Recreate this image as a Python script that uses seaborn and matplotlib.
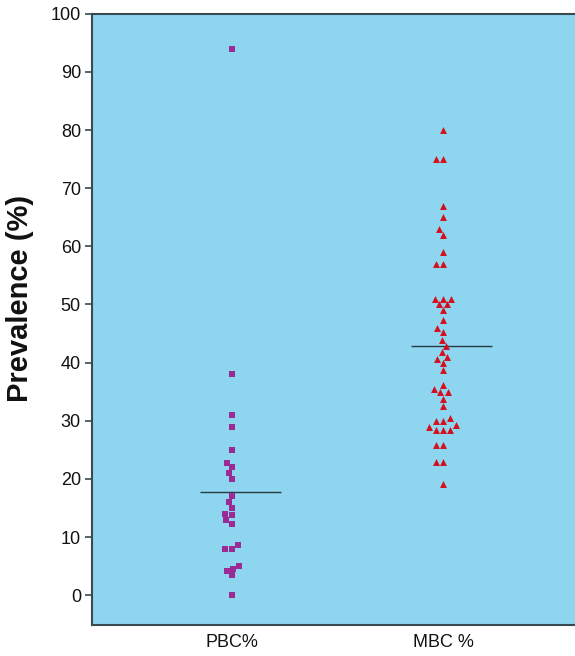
import matplotlib
matplotlib.use("Agg")
import matplotlib.pyplot as plt
import seaborn as sns
import pandas as pd

categories = ["PBC%", "MBC %"]
pbc_values = [94, 38, 31, 29, 25, 22.8, 22, 21, 20, 17, 16, 15, 14, 13.8,
              12.9, 12.3, 8.6, 8, 8, 5, 4.5, 4.1, 3.4, 0]
mbc_values = [80, 75, 75, 67, 65, 63, 62, 59, 57, 57, 51, 51, 51, 50, 50, 49,
              47.4, 45.9, 45.3, 43.9, 42.9, 41.9, 41, 40.6, 40, 38.7, 36.1,
              35.4, 34.9, 34.9, 33.8, 32.5, 30.4, 29.9, 29.9, 29.3, 28.9,
              28.5, 28.4, 28.5, 25.9, 25.9, 22.9, 22.9, 19.2]
center_lines = [17.8, 42.8]
y_ticks = [0, 10, 20, 30, 40, 50, 60, 70, 80, 90, 100]

df = pd.DataFrame({
    "group": [categories[0]] * len(pbc_values) + [categories[1]] * len(mbc_values),
    "value": pbc_values + mbc_values,
})

sns.set_style("ticks")
plt.rcParams["font.family"] = ["Liberation Sans", "DejaVu Sans"]

fig = plt.figure(figsize=(5.75, 6.56), dpi=100)
ax = fig.add_axes([0.16, 0.047, 0.84, 0.932])
ax.set_facecolor("#8ed5f0")

markers = {"PBC%": "s", "MBC %": "^"}
colors = {"PBC%": "#9c2a94", "MBC %": "#d4101e"}
sizes = {"PBC%": 4.6, "MBC %": 5.0}
for cat in categories:
    sub = df[df["group"] == cat]
    sns.swarmplot(data=sub, x="group", y="value", order=categories, ax=ax,
                  marker=markers[cat], color=colors[cat], size=sizes[cat],
                  linewidth=0, zorder=3)

for i, v in enumerate(center_lines):
    ax.hlines(v, i - 0.15, i + 0.23, color="#2b3a40", linewidth=1.0, zorder=2)

ax.set_xlim(-0.663, 1.625)
ax.set_ylim(-5.15, 100)
ax.set_yticks(y_ticks)
ax.set_yticklabels([str(t) for t in y_ticks])
ax.tick_params(axis="y", labelsize=13, length=5, width=1.2, color="#3a4a50",
               pad=3, labelcolor="#111111")
ax.tick_params(axis="x", labelsize=13, length=0, pad=6, labelcolor="#111111")
ax.set_xlabel("")
ax.set_ylabel("Prevalence (%)", fontsize=21, fontweight="bold",
              color="#111111")
ax.yaxis.set_label_coords(-0.12, 0.534)

for side in ["left", "bottom", "top"]:
    ax.spines[side].set_visible(True)
    ax.spines[side].set_color("#3a4a50")
    ax.spines[side].set_linewidth(1.5)
ax.spines["right"].set_visible(False)

fig.savefig("out.png", dpi=100)
